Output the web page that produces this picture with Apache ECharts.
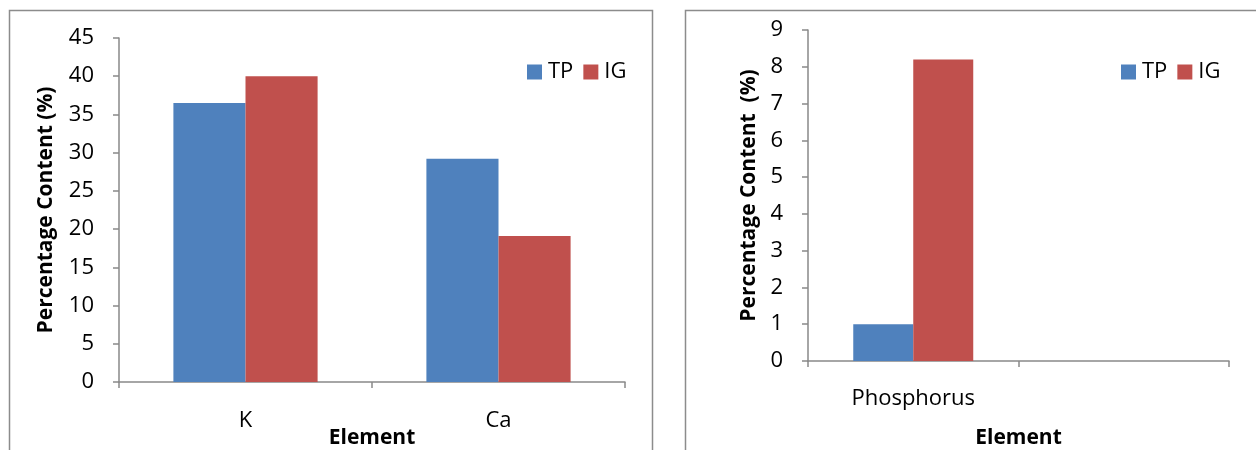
<!DOCTYPE html>
<html>
<head>
<meta charset="utf-8">
<script src="https://cdn.jsdelivr.net/npm/echarts@6/dist/echarts.min.js"></script>
<style>
  html, body { margin: 0; padding: 0; background: #fff; }
  #chart { width: 1256px; height: 450px; }
</style>
</head>
<body>
<div id="chart"></div>
<script>
// Major elements (left panel)
const majorElements = ['K', 'Ca'];
const majorTP = [36.5, 29.2];
const majorIG = [40.0, 19.1];
const majorTicks = { min: 0, max: 45, interval: 5 };

// Phosphorus (right panel); second slot is an empty category
const minorElements = ['Phosphorus', ''];
const minorTP = [1.0, null];
const minorIG = [8.2, null];
const minorTicks = { min: 0, max: 9, interval: 1 };

const seriesNames = ['TP', 'IG'];
const colors = ['#4F81BD', '#C0504D'];

const FONT = '"Open Sans", Lato, sans-serif';
const axisGray = '#898989';

function valueAxis(gridIndex, ticks, name, nameGap) {
  return {
    type: 'value', gridIndex,
    min: ticks.min, max: ticks.max, interval: ticks.interval,
    name, nameLocation: 'middle', nameGap, nameMoveOverlap: false,
    nameTextStyle: { fontFamily: FONT, fontWeight: 'bold', fontSize: 21, color: '#000' },
    axisLine: { show: true, lineStyle: { color: axisGray, width: 1.5 } },
    axisTick: { show: true, length: 6, lineStyle: { color: axisGray, width: 1.5 } },
    axisLabel: { fontFamily: FONT, fontSize: 22, color: '#000', margin: 25 },
    splitLine: { show: false }
  };
}

function categoryAxis(gridIndex, cats, nameGap, labelMargin) {
  return {
    type: 'category', gridIndex, data: cats,
    name: 'Element', nameLocation: 'middle', nameGap, nameMoveOverlap: false,
    nameTextStyle: { fontFamily: FONT, fontWeight: 'bold', fontSize: 21, color: '#000', verticalAlign: 'top' },
    axisLine: { show: true, lineStyle: { color: axisGray, width: 1.5 } },
    axisTick: { show: true, length: 6, alignWithLabel: false, lineStyle: { color: axisGray, width: 1.5 } },
    axisLabel: { fontFamily: FONT, fontSize: 22, color: '#000', margin: labelMargin, interval: 0 },
    splitLine: { show: false }
  };
}

function bar(name, data, idx, color) {
  return {
    type: 'bar', name, data,
    xAxisIndex: idx, yAxisIndex: idx,
    barGap: '0%', barCategoryGap: '43%',
    itemStyle: { color },
    emphasis: { disabled: true },
    silent: true
  };
}

function legend(left) {
  return {
    left, top: 61, padding: 0,
    itemWidth: 15, itemHeight: 15, itemGap: 10,
    icon: 'rect',
    textStyle: { fontFamily: FONT, fontSize: 22, color: '#000', padding: [0, 0, 0, 1] },
    data: seriesNames,
    selectedMode: false
  };
}

const chart = echarts.init(document.getElementById('chart'), null, { renderer: 'canvas' });

chart.setOption({
  animation: false,
  backgroundColor: '#fff',
  color: colors,
  grid: [
    { left: 119, right: 1256 - 625, top: 38, bottom: 450 - 382, outerBoundsMode: 'none', containLabel: false },
    { left: 808, right: 1256 - 1229, top: 30, bottom: 450 - 361, outerBoundsMode: 'none', containLabel: false }
  ],
  legend: [legend(527), legend(1121)],
  xAxis: [
    categoryAxis(0, majorElements, 46, 28),
    categoryAxis(1, minorElements, 67, 27)
  ],
  yAxis: [
    valueAxis(0, majorTicks, 'Percentage Content (%)', 62),
    valueAxis(1, minorTicks, 'Percentage Content  (%)', 48)
  ],
  series: [
    bar(seriesNames[0], majorTP, 0, colors[0]),
    bar(seriesNames[1], majorIG, 0, colors[1]),
    bar(seriesNames[0], minorTP, 1, colors[0]),
    bar(seriesNames[1], minorIG, 1, colors[1])
  ],
  graphic: [
    { type: 'rect', silent: true, z: -1,
      shape: { x: 9.5, y: 10.5, width: 643, height: 470 },
      style: { fill: 'none', stroke: '#8c8c8c', lineWidth: 1.5 } },
    { type: 'rect', silent: true, z: -1,
      shape: { x: 685.5, y: 10.5, width: 620, height: 470 },
      style: { fill: 'none', stroke: '#8c8c8c', lineWidth: 1.5 } }
  ]
});
</script>
</body>
</html>
